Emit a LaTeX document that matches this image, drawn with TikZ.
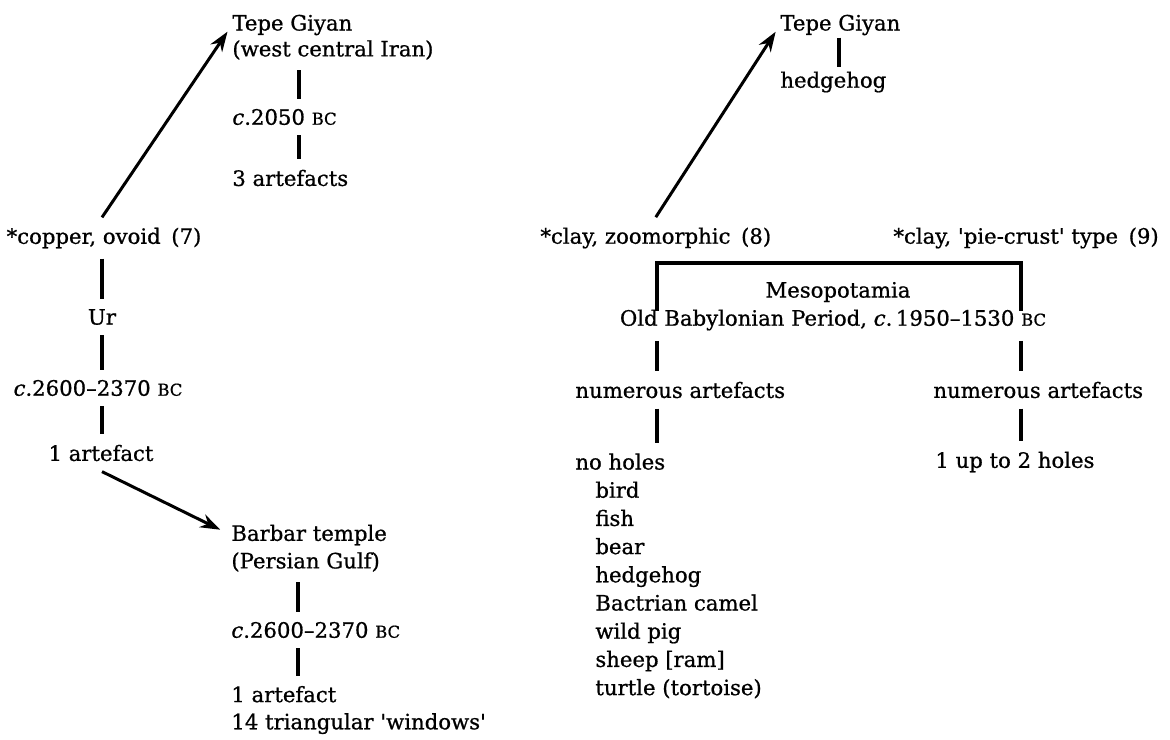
\documentclass[tikz,border=0pt]{standalone}
\usepackage{fontspec}
\setmainfont{DejaVu Serif}[FakeBold=0.8]
\usetikzlibrary{arrows.meta}
\newcommand{\bc}{{\fontsize{8.2}{8}\selectfont BC}}
\newcommand{\circa}{\textit{c}.}

\begin{document}
\begin{tikzpicture}[x=0.5pt, y=-0.5pt,
        font=\fontsize{10.6}{13.6}\selectfont,
        lbl/.style = {anchor=west, inner xsep=0pt, inner ysep=5pt, align=left},
        mid/.style = {inner xsep=0pt, inner ysep=5pt},
        link/.style = {line width=1.6pt},
        goes/.style = {line width=1.5pt, -{Stealth[length=10pt, width=7pt]}, shorten >=4pt}]
    \useasboundingbox (0,0) rectangle (1170,739);

    % copper, ovoid
    \node (cop) at (104,238) [mid] {*copper, ovoid\enspace(7)};
    \node (ur) at (102,317) [mid] {Ur};
    \node (urdate) at (98,388) [mid] {\circa2600--2370 \bc};
    \node (urart) at (101,453) [mid] {1 artefact};
    \coordinate (colU) at (102,0);
    \draw[link] (cop.south -| colU) -- (ur.north -| colU);
    \draw[link] (ur.south -| colU) -- (urdate.north -| colU);
    \draw[link] (urdate.south -| colU) -- (urart.north -| colU);

    % Tepe Giyan, left
    \coordinate (colT) at (299,0);
    \node (tgL) at (232,25) [lbl] {Tepe Giyan};
    \node (tgLsub) at (232,50) [lbl] {(west central Iran)};
    \node (tgLdate) at (232,117) [lbl] {\circa2050 \bc};
    \node (tgLart) at (232,178) [lbl] {3 artefacts};
    \draw[link] (tgLsub.south -| colT) -- (tgLdate.north -| colT);
    \draw[link] (tgLdate.south -| colT) -- (tgLart.north -| colT);
    \draw[goes] (cop.north -| colU) -- (tgL.west);

    % Barbar temple
    \coordinate (colB) at (298,0);
    \node (bar) at (231,535) [lbl] {Barbar temple};
    \node (barsub) at (231,562) [lbl] {(Persian Gulf)};
    \node (bardate) at (231,630) [lbl] {\circa2600--2370 \bc};
    \node (barart) at (231,710) [lbl] {1 artefact\\14 triangular \textquotesingle windows\textquotesingle};
    \draw[link] (barsub.south -| colB) -- (bardate.north -| colB);
    \draw[link] (bardate.south -| colB) -- (barart.north -| colB);
    \draw[goes, shorten >=6pt] (urart.south -| colU) -- (bar.west);

    % Tepe Giyan, right
    \coordinate (colH) at (839,0);
    \node (tgR) at (780,25) [lbl] {Tepe Giyan};
    \node (hog) at (780,82) [lbl] {hedgehog};
    \draw[link, shorten <=-4pt, shorten >=-3pt] (tgR.south -| colH) -- (hog.north -| colH);

    % clay
    \node (zoo) at (540,238) [lbl] {*clay, zoomorphic\enspace(8)};
    \node (pie) at (893,238) [lbl] {*clay, \textquotesingle pie-crust\textquotesingle{} type\enspace(9)};
    \draw[goes] (zoo.north) -- (tgR.west);

    \node (meso) at (838,292) [mid] {Mesopotamia};
    \node (obp) at (833,320) [mid] {Old Babylonian Period, \circa\,1950--1530 \bc};
    \coordinate (colL) at (657,263);
    \coordinate (colR) at (1021,263);
    \draw[link, shorten <=-6pt, shorten >=-6pt] (obp.north -| colL) -- (colL) -- (colR) -- (obp.north -| colR);

    \node (numL) at (575,390) [lbl] {numerous artefacts};
    \node (numR) at (933,390) [lbl] {numerous artefacts};
    \draw[link] (obp.south -| colL) -- (numL.north -| colL);
    \draw[link] (obp.south -| colR) -- (numR.north -| colR);

    \node (noholes) at (575,443) [lbl, anchor=north west, font=\fontsize{10.6}{14.1}\selectfont]
        {no holes\\\hspace*{10pt}bird\\\hspace*{10pt}fish\\\hspace*{10pt}bear\\\hspace*{10pt}hedgehog\\
         \hspace*{10pt}Bactrian camel\\\hspace*{10pt}wild pig\\\hspace*{10pt}sheep [ram]\\\hspace*{10pt}turtle (tortoise)};
    \node (twoholes) at (935,462) [lbl] {1 up to 2 holes};
    \draw[link] (numL.south -| colL) -- (noholes.north -| colL);
    \draw[link] (numR.south -| colR) -- (twoholes.north -| colR);
\end{tikzpicture}
\end{document}
